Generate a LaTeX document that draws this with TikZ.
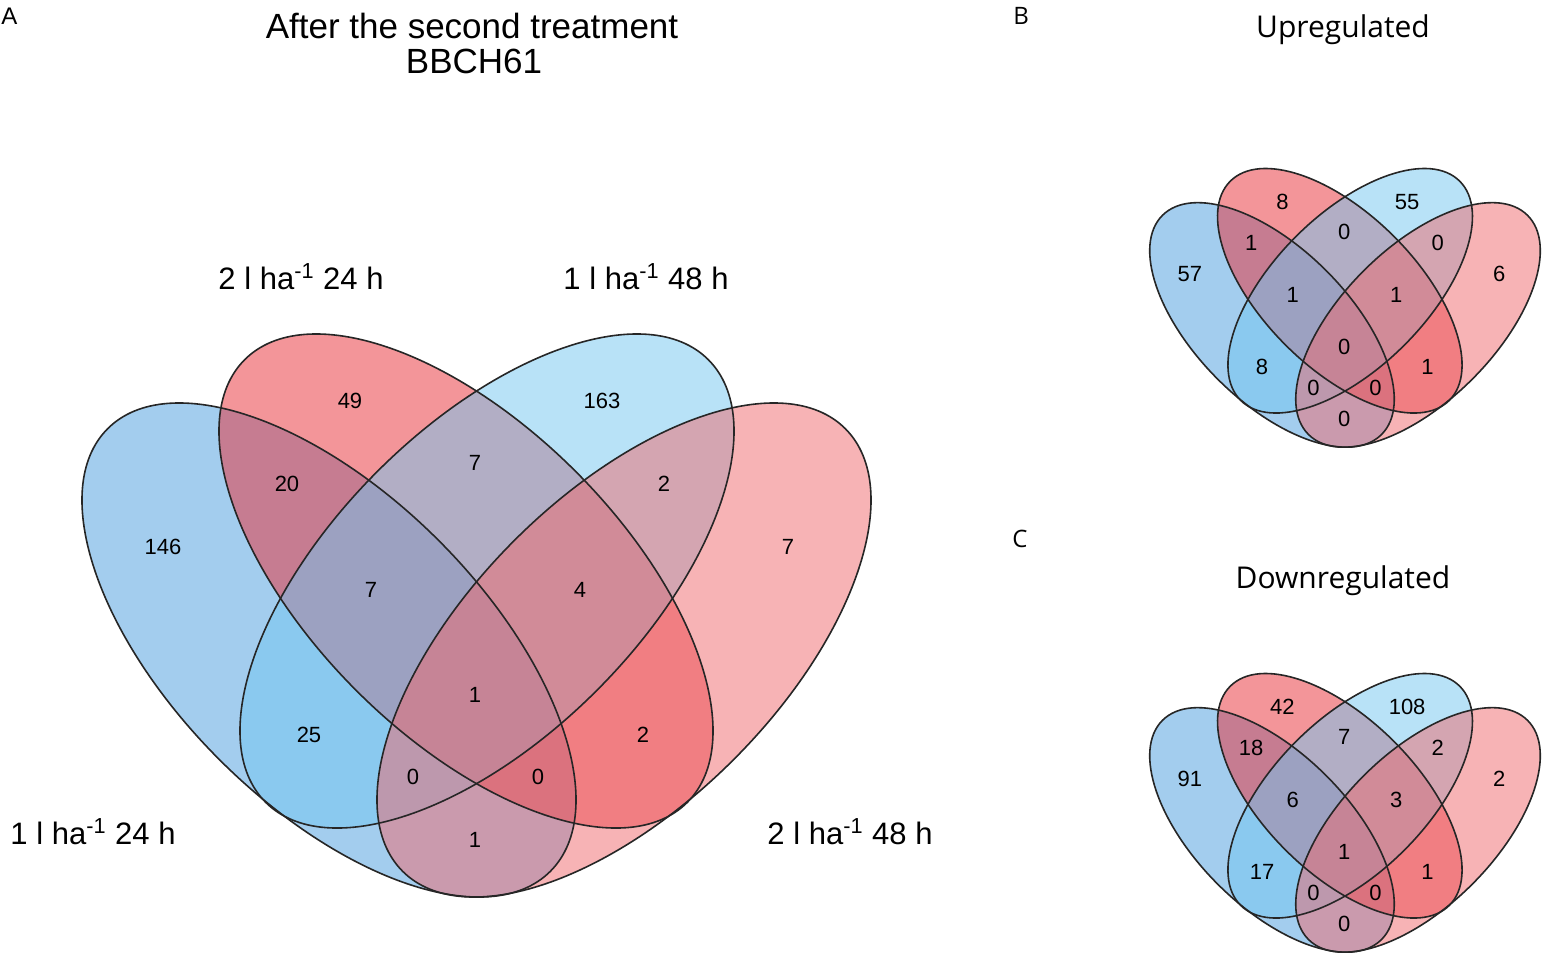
\documentclass[tikz,border=0pt]{standalone}
\usepackage{fontspec}
\setmainfont{Liberation Sans}
\newfontfamily\panelfont{Open Sans}
\usetikzlibrary{positioning}

\definecolor{setone}{RGB}{72,156,222}
\definecolor{settwo}{RGB}{233,45,53}
\definecolor{setthree}{RGB}{115,199,241}
\definecolor{setfour}{RGB}{241,105,109}

% the four ellipses, drawn in the pixel frame of panel A
\newcommand{\vennsets}{%
  \fill[setone,fill opacity=0.5,rotate around={-45:(329,650)}] (329,650) ellipse (313 and 155);
  \fill[settwo,fill opacity=0.5,rotate around={-45:(466,581)}] (466,581) ellipse (313 and 155);
  \fill[setthree,fill opacity=0.5,rotate around={45:(487,581)}] (487,581) ellipse (313 and 155);
  \fill[setfour,fill opacity=0.5,rotate around={45:(624,650)}] (624,650) ellipse (313 and 155);
  \draw[rim,rotate around={-45:(329,650)}] (329,650) ellipse (313 and 155);
  \draw[rim,rotate around={-45:(466,581)}] (466,581) ellipse (313 and 155);
  \draw[rim,rotate around={45:(487,581)}] (487,581) ellipse (313 and 155);
  \draw[rim,rotate around={45:(624,650)}] (624,650) ellipse (313 and 155);
}

\begin{document}
\begin{tikzpicture}[x=0.5pt,y=-0.5pt,
  rim/.style={draw=black!85,line width=0.8pt},
  num/.style={inner sep=0pt,font=\fontsize{11}{13}\selectfont},
  setlabel/.style={inner sep=0pt,anchor=base,font=\fontsize{15.5}{18}\selectfont},
  heading/.style={inner sep=0pt,anchor=base,font=\fontsize{17.5}{20}\selectfont},
  subhead/.style={inner sep=0pt,anchor=base,font=\panelfont\fontsize{15}{18}\selectfont},
  letter/.style={inner sep=0pt,anchor=base west,font=\fontsize{12}{14}\selectfont}]
  \fill[white] (0,0) rectangle (1544,955);
  \useasboundingbox (0,0) rectangle (1544,955);

  % panel A
  \node[letter] (lA) at (1,24) {A};
  \node[heading] (title) at (472,38) {After the second treatment};
  \node[heading] (stage) at (474,73) {BBCH61};
  \vennsets
  \node[setlabel] (s1) at (93,844) {1 l ha\textsuperscript{-1} 24 h};
  \node[setlabel] (s2) at (301,289) {2 l ha\textsuperscript{-1} 24 h};
  \node[setlabel] (s3) at (646,289) {1 l ha\textsuperscript{-1} 48 h};
  \node[setlabel] (s4) at (850,844) {2 l ha\textsuperscript{-1} 48 h};
  \node[num] (A1) at (163,547) {146};
  \node[num] (A2) at (350,401) {49};
  \node[num] (A3) at (602,401) {163};
  \node[num] (A4) at (788,547) {7};
  \node[num] (A12) at (287,484) {20};
  \node[num] (A23) at (475,463) {7};
  \node[num] (A34) at (664,484) {2};
  \node[num] (A123) at (371,590) {7};
  \node[num] (A234) at (580,590) {4};
  \node[num] (A13) at (309,735) {25};
  \node[num] (A1234) at (475,695) {1};
  \node[num] (A24) at (643,735) {2};
  \node[num] (A134) at (413,777) {0};
  \node[num] (A124) at (538,777) {0};
  \node[num] (A14) at (475,840) {1};

  % panel B
  \node[letter,font=\panelfont\fontsize{12}{14}\selectfont] (lB) at (1013,24) {B};
  \node[subhead] (up) at (1343,37) {Upregulated};
  \begin{scope}[shift={(1345,168)},scale=0.495,shift={(-476.5,-333)}]
    \vennsets
    \node[num] (B1) at (163,547) {57};
    \node[num] (B2) at (350,401) {8};
    \node[num] (B3) at (602,401) {55};
    \node[num] (B4) at (788,547) {6};
    \node[num] (B12) at (287,484) {1};
    \node[num] (B23) at (475,463) {0};
    \node[num] (B34) at (664,484) {0};
    \node[num] (B123) at (371,590) {1};
    \node[num] (B234) at (580,590) {1};
    \node[num] (B13) at (309,735) {8};
    \node[num] (B1234) at (475,695) {0};
    \node[num] (B24) at (643,735) {1};
    \node[num] (B134) at (413,777) {0};
    \node[num] (B124) at (538,777) {0};
    \node[num] (B14) at (475,840) {0};
  \end{scope}

  % panel C
  \node[letter,font=\panelfont\fontsize{12}{14}\selectfont] (lC) at (1012,547) {C};
  \node[subhead] (down) at (1343,588) {Downregulated};
  \begin{scope}[shift={(1345,673)},scale=0.495,shift={(-476.5,-333)}]
    \vennsets
    \node[num] (C1) at (163,547) {91};
    \node[num] (C2) at (350,401) {42};
    \node[num] (C3) at (602,401) {108};
    \node[num] (C4) at (788,547) {2};
    \node[num] (C12) at (287,484) {18};
    \node[num] (C23) at (475,463) {7};
    \node[num] (C34) at (664,484) {2};
    \node[num] (C123) at (371,590) {6};
    \node[num] (C234) at (580,590) {3};
    \node[num] (C13) at (309,735) {17};
    \node[num] (C1234) at (475,695) {1};
    \node[num] (C24) at (643,735) {1};
    \node[num] (C134) at (413,777) {0};
    \node[num] (C124) at (538,777) {0};
    \node[num] (C14) at (475,840) {0};
  \end{scope}
\end{tikzpicture}
\end{document}
